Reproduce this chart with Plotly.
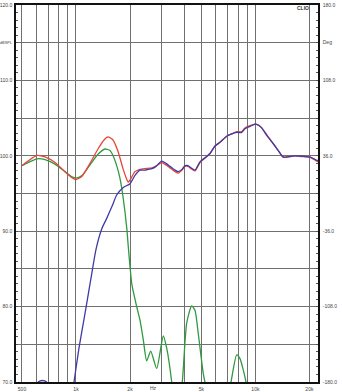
import plotly.graph_objects as go
import math

# ---------------- data ----------------
total_freq = [500, 540, 606, 672, 764, 868, 950, 1000, 1080, 1197, 1326, 1433, 1508, 1608, 1714,
              1828, 1917, 1956, 2025, 2132, 2274, 2425, 2652, 2828, 3003, 3175, 3342, 3563, 3716,
              3899, 4052, 4210, 4375, 4605, 4911, 5352, 5585, 5955, 6350, 6918, 7377, 7865, 8386,
              8750, 9332, 9950, 10382, 10842, 11561, 12579, 13419, 14306, 15592, 16626, 18118,
              20156, 21964, 22336]
total_db = [98.7, 99.3, 100.05, 99.85, 99.1, 97.9, 97.1, 96.85, 97.3, 99.0, 100.9, 102.1, 102.5,
            102.1, 100.6, 98.3, 96.9, 96.5, 97.0, 97.9, 98.2, 98.3, 98.4, 98.7, 99.1, 98.8, 98.4,
            97.9, 97.7, 98.1, 98.6, 98.6, 98.3, 98.0, 99.1, 99.9, 100.3, 101.3, 101.8, 102.6,
            102.9, 103.2, 103.2, 103.7, 104.0, 104.2, 104.1, 103.7, 102.8, 101.6, 100.7, 99.8,
            99.9, 100.0, 99.9, 99.8, 99.3, 99.2]

woofer_freq = [500, 540, 606, 672, 764, 868, 950, 1000, 1080, 1197, 1326, 1450, 1547, 1588, 1686,
               1759, 1835, 1917, 1956, 2000, 2044, 2086, 2179, 2274, 2372, 2478, 2608, 2817, 3066,
               3203, 3416, 3610, 3913, 4140, 4414, 4605, 4805, 5123, 5236, 6190, 7311, 7865, 8206,
               8560, 8866, 10611, 22336]
woofer_db = [98.7, 99.1, 99.6, 99.5, 98.9, 97.9, 97.2, 97.05, 97.4, 98.8, 100.2, 100.9, 100.7,
             100.3, 98.7, 97.0, 94.3, 90.5, 88.0, 85.3, 83.1, 82.0, 80.0, 78.2, 75.6, 72.8, 74.1,
             71.8, 76.1, 74.5, 70.0, 64.0, 70.0, 77.8, 80.1, 79.5, 76.4, 71.1, 70.0, 62.0, 70.0,
             73.6, 73.1, 71.6, 70.0, 60.0, 55.0]

tweeter_freq = [463, 554, 599, 616, 650, 686, 716, 794, 880, 938, 975, 1039, 1108, 1207, 1293,
                1391, 1483, 1588, 1686, 1835, 2000, 2132, 2274, 2425, 2529, 2652, 2792, 3003,
                3175, 3342, 3563, 3716, 3899, 4052, 4210, 4375, 4605, 4911, 5352, 5585, 5955,
                6350, 6918, 7377, 7865, 8386, 8750, 9332, 9950, 10382, 10842, 11561, 12579,
                13419, 14306, 15592, 16626, 18118, 20156, 21964, 22336]
tweeter_db = [60.0, 66.0, 69.5, 70.0, 70.2, 70.0, 69.0, 64.0, 63.0, 67.0, 70.0, 74.5, 78.3, 83.5,
              87.6, 90.3, 91.7, 93.3, 94.8, 95.8, 96.3, 97.4, 98.1, 98.1, 98.2, 98.3, 98.6, 99.3,
              99.0, 98.6, 98.1, 97.9, 98.2, 98.7, 98.7, 98.4, 98.1, 99.2, 99.9, 100.3, 101.3,
              101.8, 102.6, 102.9, 103.1, 103.1, 103.6, 103.9, 104.2, 104.05, 103.7, 102.7, 101.6,
              100.7, 99.85, 99.9, 100.0, 99.95, 99.85, 99.4, 99.4]

x_grid = [500, 600, 700, 800, 900, 1000, 2000, 3000, 4000, 5000, 6000, 7000, 8000, 9000, 10000, 20000]
x_text = ['500', '', '', '', '', '1k', '2k', '', '', '5k', '', '', '', '', '10k', '20k']

y_grid = [70, 75, 80, 85, 90, 95, 100, 105, 110, 115, 120]
y_text = ['70.0', '', '80.0', '', '90.0', '', '100.0', '', '110.0',
          '<span style="font-size:4px">dBSPL</span>', '120.0']

deg_vals = [-180, -108, -36, 36, 108, 144, 180]
deg_text = ['-180.0', '-108.0', '-36.0', '36.0', '108.0', 'Deg', '180.0']

# ---------------- figure ----------------
tick_font = dict(family='Liberation Sans, Arial, sans-serif', size=5, color='#444444')

fig = go.Figure()
fig.add_trace(go.Scatter(x=woofer_freq, y=woofer_db, mode='lines',
                         line=dict(color='#2f9a3f', width=1.3, shape='spline', smoothing=0.6),
                         hoverinfo='skip', showlegend=False))
fig.add_trace(go.Scatter(x=total_freq, y=total_db, mode='lines',
                         line=dict(color='#e8443a', width=1.3, shape='spline', smoothing=0.6),
                         hoverinfo='skip', showlegend=False))
fig.add_trace(go.Scatter(x=tweeter_freq, y=tweeter_db, mode='lines',
                         line=dict(color='#3f3aa8', width=1.3, shape='spline', smoothing=0.6),
                         hoverinfo='skip', showlegend=False))
fig.add_trace(go.Scatter(x=[None], y=[None], yaxis='y2', mode='lines',
                         hoverinfo='skip', showlegend=False))

fig.update_layout(
    width=342, height=392,
    margin=dict(l=16, r=24, t=5, b=10, pad=0),
    paper_bgcolor='white', plot_bgcolor='white',
    template='none',
    showlegend=False,
    xaxis=dict(type='log', range=[math.log10(463), math.log10(22336)],
               tickmode='array', tickvals=x_grid, ticktext=x_text,
               showgrid=True, gridcolor='#707070', gridwidth=1,
               ticks='', tickfont=tick_font, ticklabelstandoff=1,
               showline=True, linecolor='#111111', linewidth=1.5, mirror=True,
               zeroline=False, automargin=False, fixedrange=True),
    yaxis=dict(range=[70, 120], tickmode='array', tickvals=y_grid, ticktext=y_text,
               showgrid=True, gridcolor='#707070', gridwidth=1,
               ticks='inside', ticklen=2, tickcolor='#555555', tickfont=tick_font,
               ticklabelstandoff=1,
               minor=dict(tickmode='linear', tick0=70, dtick=1, ticks='inside', ticklen=2,
                          tickcolor='#555555', showgrid=False),
               showline=True, linecolor='#111111', linewidth=1.5, mirror=True,
               zeroline=False, automargin=False, fixedrange=True),
    yaxis2=dict(overlaying='y', side='right', range=[-180, 180],
                tickmode='array', tickvals=deg_vals, ticktext=deg_text,
                showgrid=False, ticks='inside', ticklen=2, tickcolor='#555555',
                tickfont=tick_font, ticklabelstandoff=2,
                minor=dict(tickmode='linear', tick0=-180, dtick=7.2, ticks='inside', ticklen=2,
                           tickcolor='#555555', showgrid=False),
                showline=True, linecolor='#111111', linewidth=1.5,
                zeroline=False, automargin=False, fixedrange=True),
    annotations=[
        dict(text='Hz', x=math.log10(2697), xref='x', y=0, yref='paper',
             yanchor='top', xanchor='center', showarrow=False, yshift=-1, font=tick_font),
        dict(text='<b>CLIO</b>', x=0.95, xref='paper', y=0.993, yref='paper',
             xanchor='center', yanchor='middle', showarrow=False,
             font=dict(family='Liberation Sans, Arial, sans-serif', size=5, color='#333333')),
    ],
)

fig.write_html('out.html')
